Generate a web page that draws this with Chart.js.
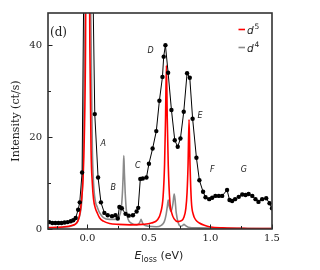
<!DOCTYPE html>
<html>
<head>
<meta charset="utf-8">
<script src="https://cdn.jsdelivr.net/npm/chart.js@4"></script>
<style>
  html, body { margin: 0; padding: 0; background: #fff; }
</style>
</head>
<body>
<canvas id="chart" width="320" height="270"></canvas>
<script>
'use strict';

// measured spectrum (black dots)
const expE = [-0.31, -0.285, -0.26, -0.235, -0.21, -0.185, -0.16, -0.135, -0.115, -0.095, -0.075, -0.062, -0.043, -0.02, 0.0, 0.025,
  0.06, 0.087, 0.11, 0.138, 0.165, 0.2, 0.228, 0.247, 0.26, 0.28, 0.31, 0.336, 0.37, 0.4, 0.413, 0.43, 0.45, 0.48, 0.5, 0.53,
  0.56, 0.585, 0.61, 0.62, 0.634, 0.656, 0.683, 0.71, 0.734, 0.756, 0.783, 0.81, 0.832, 0.855, 0.886, 0.91, 0.94, 0.96, 0.99,
  1.014, 1.04, 1.068, 1.095, 1.135, 1.155, 1.176, 1.2, 1.23, 1.258, 1.285, 1.31, 1.34, 1.366, 1.39, 1.42, 1.453, 1.48, 1.5];
const expI = [1.5, 1.3, 1.3, 1.3, 1.3, 1.4, 1.5, 1.7, 1.9, 2.4, 4.2, 5.8, 12.3, 80, 200, 90,
  25, 11.2, 5.8, 3.5, 3.0, 2.8, 3.0, 2.3, 4.8, 4.5, 3.3, 2.9, 3.0, 3.8, 4.6, 10.9, 11.0, 11.2, 14.2, 17.5,
  21.3, 27.9, 33.1, 37.5, 40, 34, 25.9, 19.3, 17.9, 19.7, 25.5, 33.9, 32.9, 24, 15.5, 10.6, 8.1, 6.9, 6.5,
  6.8, 7.2, 7.2, 7.2, 8.5, 6.3, 6.1, 6.5, 7.0, 7.5, 7.4, 7.6, 7.2, 6.5, 5.9, 6.5, 6.7, 5.6, 4.5];

// d5 calculation (red)
const d5E = [-0.32, -0.25, -0.2, -0.15, -0.12, -0.1, -0.08, -0.065, -0.055, -0.045, -0.035, -0.025, -0.015, -0.008, 0.002,
  0.012, 0.02, 0.03, 0.04, 0.05, 0.065, 0.08, 0.1, 0.13, 0.18, 0.25, 0.35, 0.45, 0.52, 0.57, 0.595, 0.615, 0.627, 0.635,
  0.642, 0.649, 0.657, 0.67, 0.685, 0.705, 0.735, 0.765, 0.785, 0.8, 0.81, 0.818, 0.826, 0.834, 0.845, 0.86, 0.88, 0.91,
  0.95, 1.0, 1.1, 1.3, 1.5];
const d5I = [0.3, 0.35, 0.45, 0.6, 0.8, 1.0, 1.6, 2.8, 4.5, 7, 11, 20, 40, 80, 160,
  80, 40, 17, 10, 6.5, 4.5, 3.5, 2.4, 1.7, 1.2, 1.0, 0.9, 1.0, 1.3, 2.0, 3.5, 7, 14, 24,
  35.6, 24, 14, 6, 3.5, 2.2, 1.6, 1.8, 2.6, 4.5, 8, 14, 23.8, 14, 6, 3.2, 2.0, 1.3,
  0.8, 0.45, 0.25, 0.12, 0.08];

// d4 calculation (grey)
const d4E = [-0.32, -0.2, -0.15, -0.1, -0.08, -0.06, -0.045, -0.035, -0.025, -0.015, -0.005, 0.005, 0.015, 0.03, 0.04, 0.05,
  0.065, 0.08, 0.1, 0.13, 0.18, 0.23, 0.26, 0.275, 0.285, 0.291, 0.296, 0.301, 0.307, 0.317, 0.33, 0.36, 0.4, 0.42, 0.43,
  0.436, 0.442, 0.455, 0.5, 0.56, 0.6, 0.625, 0.64, 0.65, 0.657, 0.665, 0.68, 0.695, 0.705, 0.712, 0.722, 0.74, 0.76,
  0.775, 0.785, 0.795, 0.82, 0.9, 1.0, 1.2, 1.5];
const d4I = [0.2, 0.35, 0.5, 1.0, 1.6, 3.2, 6.5, 14, 35, 60, 150, 150, 80, 42, 18, 10,
  6, 4.8, 3.5, 2.5, 2.1, 2.1, 2.8, 4.5, 8, 12, 16, 12, 8, 4, 2.2, 1.2, 0.9, 1.2, 1.7,
  2.1, 1.7, 1.0, 0.6, 0.5, 0.8, 1.6, 3.2, 5, 6.3, 5, 3.8, 5.5, 7.6, 6.5, 3.5, 1.2, 0.6,
  0.8, 1.0, 0.8, 0.4, 0.25, 0.2, 0.15, 0.1];

const xTickVals = [-0.25, 0, 0.25, 0.5, 0.75, 1.0, 1.25, 1.5];
const xTickLabels = ['', '0.0', '', '0.5', '', '1.0', '', '1.5'];
const yTickVals = [0, 10, 20, 30, 40];
const yTickLabels = ['0', '', '20', '', '40'];

// peak letters
const peakNames = ['A', 'B', 'C', 'D', 'E', 'F', 'G'];
const peakAt = [[0.129, 18.6], [0.21, 8.9], [0.409, 13.7], [0.513, 38.7], [0.915, 24.6], [1.015, 12.8], [1.272, 12.8]];

const toXY = (xs, ys) => xs.map((x, i) => ({ x, y: ys[i] }));

const INK = '#222';
const SERIF = '"DejaVu Serif", serif';
const SANS = '"DejaVu Sans", sans-serif';

// ─── frame, inward ticks, labels ──────────────────────────────
const decor = {
  id: 'decor',
  afterDraw(chart) {
    const { ctx, chartArea: a, scales: { x, y } } = chart;
    ctx.save();

    ctx.strokeStyle = INK;
    ctx.lineWidth = 1;
    xTickVals.forEach((v, i) => {
      const px = Math.round(x.getPixelForValue(v)) + 0.5;
      const len = xTickLabels[i] ? 4.5 : 3;
      ctx.beginPath(); ctx.moveTo(px, a.bottom); ctx.lineTo(px, a.bottom - len); ctx.stroke();
    });
    yTickVals.forEach((v, i) => {
      const py = Math.round(y.getPixelForValue(v)) + 0.5;
      const len = yTickLabels[i] ? 4.5 : 3;
      ctx.beginPath(); ctx.moveTo(a.left, py); ctx.lineTo(a.left + len, py); ctx.stroke();
    });

    ctx.lineWidth = 1.6;
    ctx.strokeStyle = '#333';
    ctx.strokeRect(a.left, a.top, a.right - a.left, a.bottom - a.top);

    ctx.fillStyle = INK;
    // panel tag
    ctx.font = '12px ' + SERIF;
    ctx.textAlign = 'left'; ctx.textBaseline = 'middle';
    ctx.fillText('(d)', 50, 33);

    // peak letters
    ctx.font = 'italic 8px ' + SANS;
    ctx.textAlign = 'center';
    peakNames.forEach((n, i) => {
      ctx.fillText(n, x.getPixelForValue(peakAt[i][0]), y.getPixelForValue(peakAt[i][1]));
    });

    // legend
    const rows = [['#ff0000', '5', 29.5], ['#8a8a8a', '4', 47.5]];
    rows.forEach(([col, sup, ly]) => {
      ctx.strokeStyle = col; ctx.lineWidth = 1.6;
      ctx.beginPath(); ctx.moveTo(238.5, ly); ctx.lineTo(245, ly); ctx.stroke();
      ctx.fillStyle = INK;
      ctx.textAlign = 'left'; ctx.textBaseline = 'alphabetic';
      ctx.font = 'italic 10.5px ' + SANS;
      ctx.fillText('d', 247, ly + 4);
      ctx.font = '7.5px ' + SANS;
      ctx.fillText(sup, 254.5, ly - 0.5);
    });

    // y title
    ctx.save();
    ctx.translate(16, 121);
    ctx.rotate(-Math.PI / 2);
    ctx.font = '11px ' + SERIF;
    ctx.textAlign = 'center'; ctx.textBaseline = 'middle';
    ctx.fillText('Intensity (ct/s)', 0, 0);
    ctx.restore();

    // x title: E_loss (eV)
    ctx.textAlign = 'left'; ctx.textBaseline = 'alphabetic';
    const parts = [['italic 11px ' + SANS, 'E', 0], ['8px ' + SANS, 'loss', 3], ['11px ' + SANS, ' (eV)', 0]];
    let w = 0;
    parts.forEach(p => { ctx.font = p[0]; w += ctx.measureText(p[1]).width; });
    let cx = 159 - w / 2;
    parts.forEach(p => {
      ctx.font = p[0];
      ctx.fillText(p[1], cx, 259 + p[2]);
      cx += ctx.measureText(p[1]).width;
    });

    ctx.restore();
  }
};

new Chart(document.getElementById('chart'), {
  type: 'line',
  data: {
    datasets: [
      {
        label: 'exp',
        data: toXY(expE, expI),
        borderColor: '#000',
        backgroundColor: '#000',
        borderWidth: 1,
        pointRadius: 2.2,
        pointBorderWidth: 0,
        tension: 0
      },
      {
        label: 'd5',
        data: toXY(d5E, d5I),
        borderColor: '#ff0000',
        borderWidth: 1.6,
        pointRadius: 0,
        cubicInterpolationMode: 'monotone'
      },
      {
        label: 'd4',
        data: toXY(d4E, d4I),
        borderColor: '#8a8a8a',
        borderWidth: 1.6,
        pointRadius: 0,
        cubicInterpolationMode: 'monotone'
      }
    ]
  },
  options: {
    responsive: false,
    animation: false,
    layout: { padding: { top: 13, right: 48, left: 0, bottom: 0 } },
    plugins: { legend: { display: false }, tooltip: { enabled: false } },
    scales: {
      x: {
        type: 'linear',
        min: -0.32, max: 1.5,
        afterBuildTicks: s => { s.ticks = xTickVals.map(v => ({ value: v })); },
        afterFit: s => { s.height = 41; },
        grid: { display: false, drawTicks: false },
        border: { display: false },
        ticks: {
          autoSkip: false, maxRotation: 0, padding: 3,
          color: INK, font: { family: SERIF, size: 10 },
          callback: (v, i) => xTickLabels[i]
        }
      },
      y: {
        min: 0, max: 47,
        afterBuildTicks: s => { s.ticks = yTickVals.map(v => ({ value: v })); },
        afterFit: s => { s.width = 48; },
        grid: { display: false, drawTicks: false },
        border: { display: false },
        ticks: {
          autoSkip: false, padding: 6,
          color: INK, font: { family: SERIF, size: 10 },
          callback: (v, i) => yTickLabels[i]
        }
      }
    }
  },
  plugins: [decor]
});
</script>
</body>
</html>
